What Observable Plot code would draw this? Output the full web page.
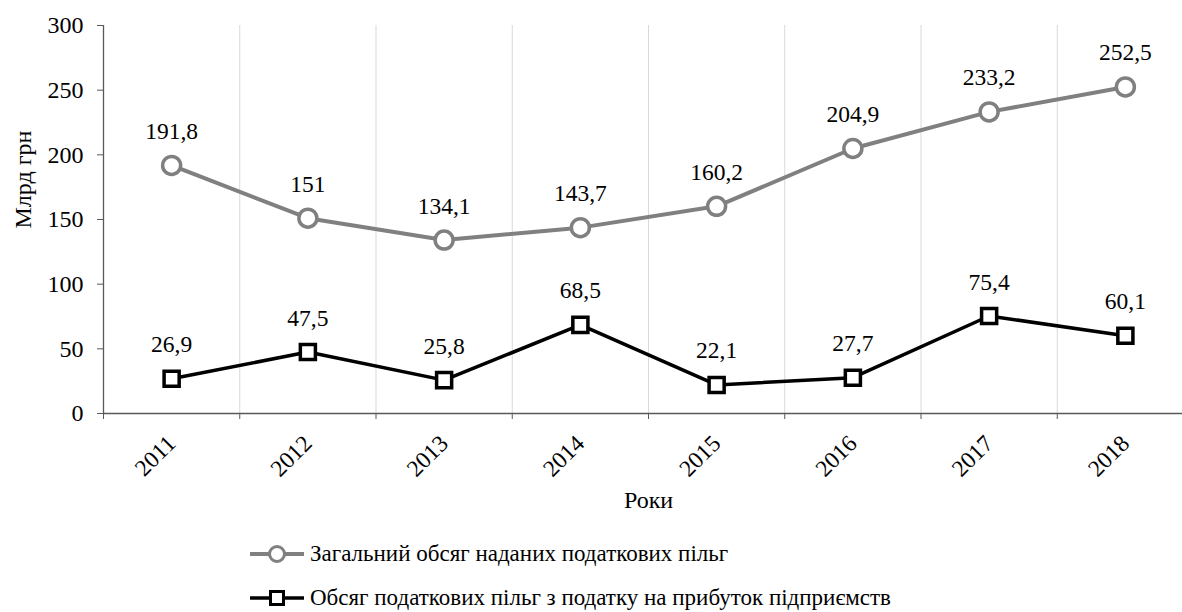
<!DOCTYPE html>
<html><head><meta charset="utf-8">
<script src="https://cdn.jsdelivr.net/npm/d3@7"></script>
<script src="https://cdn.jsdelivr.net/npm/@observablehq/plot@0.6"></script>
<style>
html,body{margin:0;padding:0;background:#fff;overflow:hidden;width:1182px;height:612px;position:relative}
#chart{width:1200px}
#chart svg{display:block;max-width:none !important;width:1200px;height:530px}
.leg{position:absolute;left:250px;display:flex;align-items:center;font-size:23px;color:#000;white-space:nowrap}
.leg svg{display:block;margin-right:6px}
</style>
</head><body>
<div id="chart"></div>
<div class="leg" id="leg1" style="top:540px;height:28px"></div>
<div class="leg" id="leg2" style="top:584px;height:28px"></div>
<script>
const years = [2011, 2012, 2013, 2014, 2015, 2016, 2017, 2018];
const totalBenefits = [191.8, 151, 134.1, 143.7, 160.2, 204.9, 233.2, 252.5];
const profitBenefits = [26.9, 47.5, 25.8, 68.5, 22.1, 27.7, 75.4, 60.1];
const yTicks = [0, 50, 100, 150, 200, 250, 300];
const seriesNames = ["Загальний обсяг наданих податкових пільг", "Обсяг податкових пільг з податку на прибуток підприємств"];
const yLabel = "Млрд грн";
const xLabel = "Роки";

const rows = years.map((yr, i) => ({year: yr, total: totalBenefits[i], profit: profitBenefits[i]}));
const bounds = years.map(y => y - 0.5).concat([years[years.length - 1] + 0.5]);
const fmt = v => String(v).replace(".", ",");
const font = "'Liberation Serif'";
const axisColor = "#595959";

const chart = Plot.plot({
  width: 1200, height: 530,
  marginLeft: 103, marginRight: 7, marginTop: 25, marginBottom: 117,
  x: {type: "linear", domain: [bounds[0], bounds[bounds.length - 1]]},
  y: {domain: [0, 300]},
  style: {fontSize: "24px", color: "#000", background: "#fff", maxWidth: "none"},
  marks: [
    Plot.ruleX(bounds.slice(1), {stroke: "#d9d9d9", strokeWidth: 1}),
    Plot.ruleY([0], {stroke: axisColor, strokeWidth: 1.3}),
    Plot.ruleX([bounds[0]], {stroke: axisColor, strokeWidth: 1.3}),
    Plot.axisY({ticks: yTicks, tickSize: 6, tickPadding: 14, stroke: axisColor, fill: "#000", fontSize: 24, label: null}),
    Plot.axisX({ticks: bounds, tickSize: 6, tickFormat: () => "", stroke: axisColor, label: null}),
    Plot.axisX({ticks: years, tickSize: 0, tickPadding: 26, tickRotate: -45, tickFormat: d => String(d), fill: "#000", fontSize: 23.5, label: null}),
    Plot.text([yLabel], {frameAnchor: "left", rotate: -90, dx: -80, dy: 9, fontSize: 24, fill: "#000"}),
    Plot.text([xLabel], {frameAnchor: "bottom", dy: 94, fontSize: 24, fill: "#000"}),
    Plot.line(rows, {x: "year", y: "total", stroke: "#808080", strokeWidth: 4}),
    Plot.dot(rows, {x: "year", y: "total", r: 9, fill: "#fff", stroke: "#808080", strokeWidth: 3.5}),
    Plot.line(rows, {x: "year", y: "profit", stroke: "#000", strokeWidth: 3.5}),
    Plot.dot(rows, {x: "year", y: "profit", symbol: "square", r: 8.5, fill: "#fff", stroke: "#000", strokeWidth: 3.5}),
    Plot.text(rows, {x: "year", y: "total", text: d => fmt(d.total), dy: -34, lineAnchor: "middle", fontSize: 23.5, fill: "#000"}),
    Plot.text(rows, {x: "year", y: "profit", text: d => fmt(d.profit), dy: -34, lineAnchor: "middle", fontSize: 23.5, fill: "#000"})
  ]
});
chart.style.fontFamily = font;
chart.querySelectorAll("text").forEach(el => { el.style.fontFamily = font; });
document.getElementById("chart").appendChild(chart);

function swatch(color, kind, sw) {
  const ns = "http://www.w3.org/2000/svg";
  const s = document.createElementNS(ns, "svg");
  s.setAttribute("width", 54); s.setAttribute("height", 24);
  const l = document.createElementNS(ns, "line");
  l.setAttribute("x1", 0); l.setAttribute("x2", 54); l.setAttribute("y1", 12); l.setAttribute("y2", 12);
  l.setAttribute("stroke", color); l.setAttribute("stroke-width", sw);
  s.appendChild(l);
  let m;
  if (kind === "circle") {
    m = document.createElementNS(ns, "circle");
    m.setAttribute("cx", 27); m.setAttribute("cy", 12); m.setAttribute("r", 7.5);
  } else {
    m = document.createElementNS(ns, "rect");
    m.setAttribute("x", 20.5); m.setAttribute("y", 5.5); m.setAttribute("width", 13); m.setAttribute("height", 13);
  }
  m.setAttribute("fill", "#fff"); m.setAttribute("stroke", color); m.setAttribute("stroke-width", 3);
  s.appendChild(m);
  return s;
}
const l1 = document.getElementById("leg1");
l1.appendChild(swatch("#808080", "circle", 4));
const t1 = document.createElement("span"); t1.style.fontFamily = font; t1.textContent = seriesNames[0]; l1.appendChild(t1);
const l2 = document.getElementById("leg2");
l2.appendChild(swatch("#000", "square", 3.5));
const t2 = document.createElement("span"); t2.style.fontFamily = font; t2.textContent = seriesNames[1]; l2.appendChild(t2);
</script>
</body></html>
